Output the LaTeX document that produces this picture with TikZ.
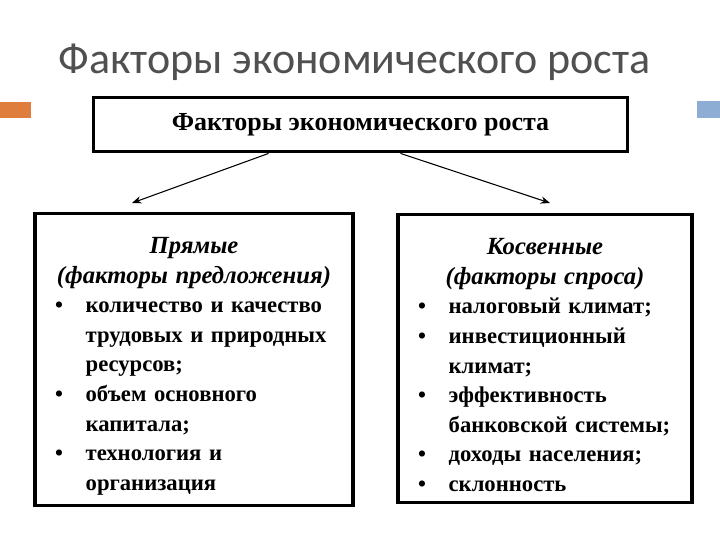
\documentclass[tikz,border=0pt]{standalone}
\usepackage{fontspec}
\setmainfont{Liberation Serif}
\newfontfamily\slidefont{Carlito}
\usetikzlibrary{arrows.meta, positioning, calc}
\definecolor{slidegray}{RGB}{80,80,80}
\definecolor{accorange}{RGB}{222,125,60}
\definecolor{accblue}{RGB}{141,173,212}
\newlength\bulind \setlength\bulind{30pt}
\newcommand{\bul}[1]{\par\noindent\makebox[\bulind][l]{\hspace{7pt}\textbullet}#1}
\newcommand{\cnt}[1]{\par\noindent\hspace*{\bulind}#1}
\newcommand{\headline}[2]{\par{\centering\itshape\fontsize{18.5}{22.2}\selectfont #1\par #2\par}}

\begin{document}
\begin{tikzpicture}[x=0.75pt, y=-0.75pt, >={Stealth[length=7pt, width=5.5pt]}]
    \tikzset{
        factorbox/.style={rectangle, draw=black, line width=2.4pt, inner sep=8pt, font=\fontsize{17}{22.2}\selectfont\bfseries},
        line/.style={draw, ->, line width=0.8pt}
    }
    \useasboundingbox (0,0) rectangle (720,540);

    % slide decoration
    \fill[accorange] (0,102) rectangle (31,118);
    \fill[accblue] (697,101) rectangle (720,118);
    \node (Title) [anchor=base west, font=\slidefont\fontsize{33}{40}\selectfont, text=slidegray] at (54,73) {Факторы экономического роста};

    \node (Top) [factorbox, font=\fontsize{19.5}{24}\selectfont\bfseries, minimum width=401pt, minimum height=41pt] at (360.5,124.5) {Факторы экономического роста};

    \node (Direct) [factorbox, minimum width=238.5pt, minimum height=213.75pt, text width=222.5pt] at (194,359.5) {\raggedright
        \headline{Прямые}{(факторы предложения)}
        \bul{количество и качество}
        \cnt{трудовых и природных}
        \cnt{ресурсов;}
        \bul{объем основного}
        \cnt{капитала;}
        \bul{технология и}
        \cnt{организация}};
    \node (Indirect) [factorbox, minimum width=220.5pt, minimum height=212pt, text width=204.5pt] at (545,358.5) {\raggedright
        \headline{Косвенные}{(факторы спроса)}
        \bul{налоговый климат;}
        \bul{инвестиционный}
        \cnt{климат;}
        \bul{эффективность}
        \cnt{банковской системы;}
        \bul{доходы населения;}
        \bul{склонность}};

    \coordinate (DirectTip) at (132,203);
    \coordinate (IndirectTip) at (550,203);
    \path [line] ($(Top.south)+(-92,0)$) -- (DirectTip);
    \path [line] ($(Top.south)+(40,0)$) -- (IndirectTip);
\end{tikzpicture}
\end{document}
